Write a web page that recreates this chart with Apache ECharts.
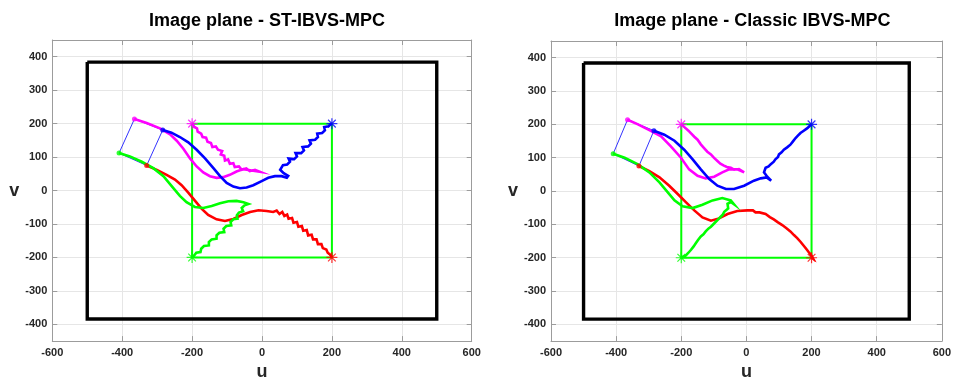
<!DOCTYPE html>
<html><head><meta charset="utf-8">
<script src="https://cdn.jsdelivr.net/npm/echarts@6/dist/echarts.min.js"></script>
<style>html,body{margin:0;padding:0;background:#fff}#c{width:954px;height:386px}</style>
</head><body><div id="c"></div><script>
// Axis ticks
const uTicks = [-600, -400, -200, 0, 200, 400, 600];
const vTicks = [-400, -300, -200, -100, 0, 100, 200, 300, 400];

// Image border (1000 x 768 px sensor, centred)
const imageBorder = [[-500, 384], [500, 384], [500, -384], [-500, -384], [-500, 384]];
// Desired feature positions: magenta, blue, red, green
const desiredFeatures = [[-200, 200], [200, 200], [200, -200], [-200, -200]];
// Initial feature positions: magenta, blue, red, green
const initialFeatures = [[-365, 214], [-284, 181], [-330, 75], [-409, 112]];

// ST-IBVS-MPC feature trajectories
const stMagenta = [[-365,214],[-330,202],[-292,186],[-263,168],[-244,149],[-225,125],[-206,96],[-187,72],[-168,54],[-149,43],[-130,38],[-111,40],[-92,47],[-73,57],[-53,64],[-30,60],[-6,56],
  [-20,62],[-35,58],[-45,66],[-58,62],[-66,72],[-78,70],[-82,82],[-92,80],[-97,93],[-106,90],[-108,104],[-118,108],[-114,118],[-126,122],[-132,132],[-142,130],[-146,142],[-156,146],[-160,158],[-170,160],[-174,170],[-184,176],[-186,186],[-194,190],[-200,200]];
const stBlue = [[-284,181],[-259,173],[-235,160],[-211,144],[-187,122],[-163,96],[-139,67],[-120,43],[-101,23],[-82,12],[-63,7],[-44,9],[-25,16],[-1,28],[18,38],[37,43],[56,43],[71,38],
  [75,44],[62,52],[52,62],[60,76],[72,78],[80,86],[76,96],[92,94],[100,102],[96,112],[112,112],[120,120],[116,130],[132,132],[140,140],[136,150],[152,152],[160,160],[158,170],[172,172],[180,180],[178,190],[190,192],[196,198],[200,200]];
const stRed = [[-330,75],[-301,62],[-273,47],[-249,33],[-230,16],[-211,-6],[-192,-30],[-173,-54],[-154,-73],[-130,-86],[-106,-91],[-82,-85],[-58,-73],[-34,-64],[-10,-59],[13,-61],
  [32,-64],[42,-60],[50,-70],[58,-64],[64,-76],[72,-72],[76,-84],[86,-82],[90,-96],[100,-94],[104,-108],[114,-106],[118,-120],[128,-118],[132,-134],[142,-132],[146,-146],[156,-146],[160,-160],[170,-160],[174,-172],[184,-176],[188,-186],[196,-192],[200,-200]];
const stGreen = [[-409,112],[-378,102],[-344,86],[-311,67],[-282,43],[-259,14],[-235,-16],[-216,-35],[-192,-49],[-168,-52],[-144,-46],[-120,-38],[-96,-32],[-73,-31],[-53,-35],[-39,-40],
  [-50,-44],[-58,-52],[-54,-62],[-66,-66],[-72,-74],[-70,-84],[-82,-86],[-90,-94],[-88,-104],[-102,-106],[-110,-114],[-108,-124],[-122,-126],[-130,-134],[-130,-144],[-144,-146],[-152,-154],[-152,-164],[-166,-166],[-174,-174],[-176,-184],[-188,-186],[-194,-194],[-200,-200]];

// Classic IBVS-MPC feature trajectories
const clMagenta = [[-365,214],[-333,200],[-298,183],[-262,164],[-232,134],[-201,100],[-176,65],[-150,46],[-125,38],[-99,43],[-74,56],[-53,65],[-28,65],[-7,56],
  [-23,66],[-38,64],[-48,70],[-60,72],[-69,76],[-80,82],[-89,90],[-100,100],[-109,110],[-120,118],[-130,129],[-140,140],[-150,154],[-160,163],[-170,173],[-178,181],[-186,188],[-193,194],[-200,200]];
const clBlue = [[-284,181],[-252,169],[-221,151],[-191,124],[-165,95],[-140,65],[-114,36],[-89,16],[-63,6],[-38,6],[-7,16],[23,31],[44,38],[62,41],[76,31],[64,43],[54,56],[59,70],[68,74],[74,80],[84,88],[89,95],[97,102],[100,110],[108,116],[115,124],[125,131],[135,139],[143,149],[151,159],[158,166],[166,174],[176,181],[186,188],[194,195],[200,200]];
const clRed = [[-330,75],[-298,60],[-267,41],[-237,16],[-211,-9],[-186,-33],[-160,-58],[-135,-79],[-109,-89],[-84,-82],[-58,-69],[-28,-60],[3,-58],[20,-58],[28,-64],[33,-60],[40,-64],[59,-69],[72,-78],[84,-85],[97,-94],[110,-102],[122,-111],[135,-121],[146,-132],[156,-141],[166,-152],[176,-164],[184,-174],[191,-183],[200,-194],[205,-203],[200,-200]];
const clGreen = [[-409,112],[-374,100],[-333,80],[-298,56],[-267,26],[-242,-3],[-221,-28],[-196,-46],[-165,-51],[-135,-41],[-104,-28],[-74,-21],[-48,-28],[-38,-40],[-48,-33],[-58,-38],[-56,-52],[-62,-56],[-68,-62],[-72,-70],[-79,-77],[-86,-84],[-94,-92],[-100,-98],[-109,-107],[-116,-112],[-125,-121],[-132,-130],[-140,-136],[-148,-146],[-155,-156],[-162,-166],[-170,-176],[-178,-185],[-186,-193],[-200,-200]];

const titles = ['Image plane - ST-IBVS-MPC', 'Image plane - Classic IBVS-MPC'];
const featureColors = ['#ff00ff', '#0000ff', '#ff0000', '#00ff00'];

const FONT = 'Liberation Sans, Arial, Helvetica, sans-serif';
const ASTERISK = 'path://M0,-1L0,1M-1,0L1,0M-0.7,-0.7L0.7,0.7M-0.7,0.7L0.7,-0.7';

const grids = [
  { left: 52.3, top: 40, width: 419.4, height: 310.3 },
  { left: 551, top: 41, width: 392.7, height: 305.7 }
];

const axisLineStyle = { onZero: false, lineStyle: { color: '#9c9c9c', width: 1 } };
const tickStyle = { color: '#9c9c9c', width: 1 };
const xAxes = [], yAxes = [];
grids.forEach((g, i) => {
  // main (bottom / left) axes with labels and grid
  xAxes.push({
    gridIndex: i, type: 'value', position: 'bottom', min: uTicks[0], max: uTicks[uTicks.length - 1], interval: 200,
    name: 'u', nameLocation: 'middle', nameGap: 21,
    nameTextStyle: { fontFamily: FONT, fontSize: 18, fontWeight: 'bold', color: '#262626' },
    axisLine: axisLineStyle, axisTick: { inside: true, length: 5, lineStyle: tickStyle },
    axisLabel: { fontFamily: FONT, fontSize: 11, fontWeight: 'bold', color: '#262626', margin: 6 },
    splitLine: { show: true, lineStyle: { color: '#e6e6e6', width: 1 } }
  });
  yAxes.push({
    gridIndex: i, type: 'value', position: 'left', min: -450, max: 450,
    name: 'v', nameLocation: 'middle', nameGap: 33, nameRotate: 0,
    nameTextStyle: { fontFamily: FONT, fontSize: 18, fontWeight: 'bold', color: '#262626' },
    axisLine: axisLineStyle,
    axisTick: { inside: true, length: 5, lineStyle: tickStyle, customValues: vTicks },
    axisLabel: { fontFamily: FONT, fontSize: 11, fontWeight: 'bold', color: '#262626', margin: 5, customValues: vTicks },
    splitLine: { show: true, lineStyle: { color: '#e6e6e6', width: 1 } }
  });
  // box (top / right) axes
  xAxes.push({
    gridIndex: i, type: 'value', position: 'top', min: uTicks[0], max: uTicks[uTicks.length - 1], interval: 200,
    axisLine: axisLineStyle, axisTick: { inside: true, length: 5, lineStyle: tickStyle },
    axisLabel: { show: false }, splitLine: { show: false }
  });
  yAxes.push({
    gridIndex: i, type: 'value', position: 'right', min: -450, max: 450,
    axisLine: axisLineStyle,
    axisTick: { inside: true, length: 5, lineStyle: tickStyle, customValues: vTicks },
    axisLabel: { show: false, customValues: vTicks }, splitLine: { show: false }
  });
});

function lineSeries(i, data, color, width, z) {
  return {
    type: 'line', xAxisIndex: i * 2, yAxisIndex: i * 2, data: data,
    showSymbol: false, symbol: 'none', silent: true, animation: false, z: z,
    lineStyle: { color: color, width: width, join: 'miter', cap: 'butt' }
  };
}

const series = [];
const panels = [
  [stMagenta, stBlue, stRed, stGreen],
  [clMagenta, clBlue, clRed, clGreen]
];
panels.forEach((paths, i) => {
  series.push(lineSeries(i, imageBorder, '#000000', 3.4, 2));
  series.push(lineSeries(i, desiredFeatures.concat([desiredFeatures[0]]), '#00ff00', 2, 3));
  series.push(lineSeries(i, initialFeatures.concat([initialFeatures[0]]), '#3333ff', 1, 4));
  paths.forEach((p, k) => series.push(lineSeries(i, p, featureColors[k], 2.6, 5)));
  // start points
  initialFeatures.forEach((pt, k) => series.push({
    type: 'scatter', xAxisIndex: i * 2, yAxisIndex: i * 2, data: [pt], symbol: 'circle', symbolSize: 5,
    itemStyle: { color: featureColors[k] }, silent: true, animation: false, z: 6
  }));
  // desired points
  desiredFeatures.forEach((pt, k) => series.push({
    type: 'scatter', xAxisIndex: i * 2, yAxisIndex: i * 2, data: [pt], symbol: ASTERISK, symbolSize: 11,
    itemStyle: { color: 'none', borderColor: featureColors[k], borderWidth: 1.2 }, silent: true, animation: false, z: 7
  }));
});

const chart = echarts.init(document.getElementById('c'), null, { renderer: 'canvas' });
chart.setOption({
  backgroundColor: '#ffffff',
  animation: false,
  title: titles.map((t, i) => ({
    text: t, left: grids[i].left + grids[i].width / 2, top: 7, textAlign: 'center',
    textStyle: { fontFamily: FONT, fontSize: 18, fontWeight: 'bold', color: '#000000' }
  })),
  grid: grids,
  xAxis: xAxes,
  yAxis: yAxes,
  series: series
});
</script></body></html>
